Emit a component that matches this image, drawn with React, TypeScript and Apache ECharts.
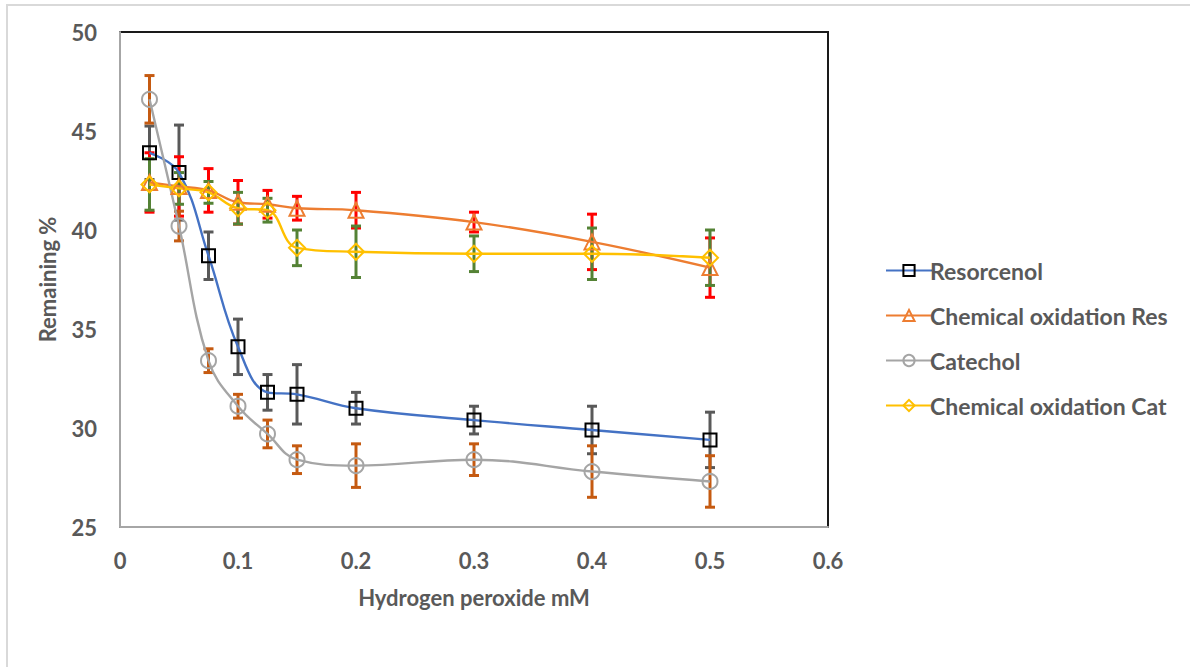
import React, { useEffect, useRef } from "react";
import * as echarts from "echarts";

const xValues = [0.025, 0.05, 0.075, 0.1, 0.125, 0.15, 0.2, 0.3, 0.4, 0.5];

const resorcenol = [43.9, 42.9, 38.7, 34.1, 31.8, 31.7, 31.0, 30.4, 29.9, 29.4];
const resorcenolErr = [1.35, 2.4, 1.2, 1.4, 0.9, 1.5, 0.8, 0.7, 1.2, 1.4];

const chemRes = [42.4, 42.2, 42.0, 41.4, 41.3, 41.1, 41.0, 40.4, 39.4, 38.1];
const chemResErr = [1.5, 1.5, 1.1, 1.1, 0.7, 0.6, 0.9, 0.5, 1.4, 1.5];

const catechol = [46.6, 40.2, 33.4, 31.1, 29.7, 28.4, 28.1, 28.4, 27.8, 27.3];
const catecholErr = [1.2, 0.75, 0.6, 0.6, 0.7, 0.7, 1.1, 0.8, 1.3, 1.3];

const chemCat = [42.3, 42.1, 41.9, 41.1, 41.0, 39.1, 38.9, 38.8, 38.8, 38.6];
const chemCatErr = [1.3, 0.8, 0.55, 0.8, 0.6, 0.9, 1.3, 0.9, 1.3, 1.4];

const seriesNames = [
  "Resorcenol",
  "Chemical oxidation Res",
  "Catechol",
  "Chemical oxidation Cat",
];

const FONT = "Lato, 'Open Sans', sans-serif";
const TEXT_COLOR = "#595959";
const FS = 22;

function errorSeries(values: number[], errs: number[], color: string) {
  return {
    type: "custom",
    z: 1,
    silent: true,
    data: xValues.map((x, i) => [x, values[i], errs[i]]),
    encode: { x: 0, y: 1 },
    renderItem: (params: any, api: any) => {
      const x = api.value(0);
      const y = api.value(1);
      const e = api.value(2);
      const top = api.coord([x, y + e]);
      const bot = api.coord([x, y - e]);
      const hw = 5;
      const style = { stroke: color, lineWidth: 3 };
      return {
        type: "group",
        children: [
          { type: "line", shape: { x1: top[0], y1: top[1], x2: bot[0], y2: bot[1] }, style },
          { type: "line", shape: { x1: top[0] - hw, y1: top[1], x2: top[0] + hw, y2: top[1] }, style },
          { type: "line", shape: { x1: bot[0] - hw, y1: bot[1], x2: bot[0] + hw, y2: bot[1] }, style },
        ],
      };
    },
  };
}

function lineSeries(name: string, values: number[], color: string, markerColor: string, symbol: string, size: number) {
  return {
    name,
    type: "line",
    z: 3,
    smooth: 0.4,
    data: xValues.map((x, i) => [x, values[i]]),
    symbol,
    symbolSize: size,
    showAllSymbol: true,
    lineStyle: { color, width: 2.4 },
    itemStyle: { color: "rgba(255,255,255,0)", borderColor: markerColor, borderWidth: 2 },
  };
}

export default function App() {
  const ref = useRef<HTMLDivElement>(null);
  useEffect(() => {
    if (!ref.current) return;
    const chart = echarts.init(ref.current, undefined, { renderer: "svg" });
    chart.setOption({
      animation: false,
      backgroundColor: "#ffffff",
      textStyle: { fontFamily: FONT },
      graphic: [
        {
          type: "rect",
          shape: { x: 7, y: 5, width: 1200, height: 700 },
          style: { fill: "none", stroke: "#d9d9d9", lineWidth: 2 },
          silent: true,
        },
      ],
      grid: {
        left: 120,
        top: 32,
        width: 708,
        height: 495,
        show: true,
        borderColor: "#1a1a1a",
        borderWidth: 2,
        backgroundColor: "transparent",
      },
      legend: {
        orient: "vertical",
        left: 880,
        top: 254,
        itemWidth: 46,
        itemHeight: 14,
        itemGap: 22,
        data: seriesNames,
        textStyle: {
          color: TEXT_COLOR,
          fontSize: 23,
          lineHeight: 22,
          fontWeight: "bold",
          fontFamily: FONT,
          padding: [0, 0, 0, -7],
        },
      },
      xAxis: {
        type: "value",
        min: 0,
        max: 0.6,
        interval: 0.1,
        name: "Hydrogen peroxide mM",
        nameLocation: "middle",
        nameGap: 59,
        nameTextStyle: { color: TEXT_COLOR, fontSize: FS, fontWeight: "bold", fontFamily: FONT },
        axisLine: { show: true, lineStyle: { color: "#a6a6a6", width: 2 } },
        axisTick: { show: false },
        splitLine: { show: false },
        axisLabel: {
          color: TEXT_COLOR,
          fontSize: FS,
          fontWeight: "bold",
          fontFamily: FONT,
          margin: 22,
          formatter: (v: number) => String(Math.round(v * 10) / 10),
        },
      },
      yAxis: {
        type: "value",
        min: 25,
        max: 50,
        interval: 5,
        name: "Remaining %",
        nameLocation: "middle",
        nameGap: 62,
        nameTextStyle: { color: TEXT_COLOR, fontSize: FS, fontWeight: "bold", fontFamily: FONT },
        axisLine: { show: true, lineStyle: { color: "#a6a6a6", width: 2 } },
        axisTick: { show: false },
        splitLine: { show: false },
        axisLabel: { color: TEXT_COLOR, fontSize: FS, fontWeight: "bold", fontFamily: FONT, margin: 23 },
      },
      series: [
        errorSeries(resorcenol, resorcenolErr, "#595959"),
        errorSeries(chemRes, chemResErr, "#ff0000"),
        errorSeries(catechol, catecholErr, "#c55a11"),
        errorSeries(chemCat, chemCatErr, "#548235"),
        lineSeries(seriesNames[0], resorcenol, "#4472c4", "#000000", "rect", 13),
        lineSeries(seriesNames[1], chemRes, "#ed7d31", "#ed7d31", "triangle", 15),
        lineSeries(seriesNames[2], catechol, "#a5a5a5", "#a5a5a5", "circle", 15),
        lineSeries(seriesNames[3], chemCat, "#ffc000", "#ffc000", "diamond", 16),
      ],
    });
    return () => chart.dispose();
  }, []);
  return (
    <div
      ref={ref}
      style={{ position: "fixed", left: 0, top: 0, width: 1190, height: 667 }}
    />
  );
}
